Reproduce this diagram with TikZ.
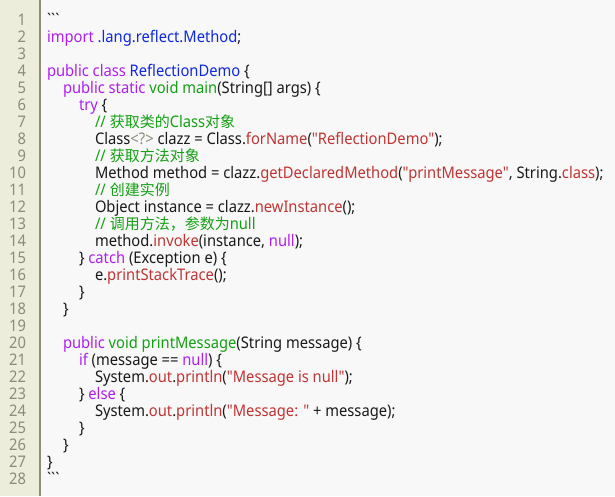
\documentclass[tikz,border=0pt]{standalone}
\usepackage{fontspec}
\newfontfamily\codefont{Noto Sans}[FakeStretch=0.92]
\newfontfamily\cjk{Noto Sans CJK SC}
\definecolor{bgc}{HTML}{F8F8F8}
\definecolor{gutterc}{HTML}{EDEDDC}
\definecolor{gutterline}{HTML}{8E8E70}
\definecolor{numc}{HTML}{8C8C78}
\definecolor{kwc}{HTML}{B01EF0}
\definecolor{clc}{HTML}{1028E0}
\definecolor{grc}{HTML}{14A014}
\definecolor{fnc}{HTML}{C03434}
\definecolor{txc}{HTML}{1A1A1A}
\newcommand{\kw}[1]{\textcolor{kwc}{#1}}
\newcommand{\cl}[1]{\textcolor{clc}{#1}}
\newcommand{\gr}[1]{\textcolor{grc}{#1}}
\newcommand{\fn}[1]{\textcolor{fnc}{#1}}
\newcommand{\gy}[1]{\textcolor{numc}{#1}}
\newcommand{\zh}[1]{{\cjk\fontsize{15}{17}\selectfont #1}}
\newcommand{\bt}{\symbol{96}\symbol{96}\symbol{96}}
\tikzset{
  codeline/.style={anchor=base west, inner sep=0pt, outer sep=0pt, text=txc, font=\codefont\fontsize{16}{17}\selectfont},
  numline/.style={anchor=base east, inner sep=0pt, outer sep=0pt, text=numc, font=\codefont\fontsize{16}{17}\selectfont},
}
\newcommand{\codeln}[3]{\node[codeline] (l#1) at ({47+16*#2}, {-25-(#1-1)*17}) {#3};}
\begin{document}
\begin{tikzpicture}[x=1pt,y=1pt]
\useasboundingbox (0,0) rectangle (615,-496);
\fill[bgc] (0,0) rectangle (615,-496);
\fill[gutterc] (0,0) rectangle (40,-496);
\draw[gutterline, line width=1.5pt] (40,0) -- (40,-496);
\foreach \i in {1,...,28} {
  \node[numline] (n\i) at (26, {-25-(\i-1)*17}) {\i};
}
\codeln{1}{0}{\bt}
\codeln{2}{0}{\kw{import} \cl{.lang.reflect.Method};}
\codeln{4}{0}{\kw{public class} \cl{ReflectionDemo} \{}
\codeln{5}{1}{\kw{public static} \gr{void main}(String[] args) \{}
\codeln{6}{2}{\kw{try} \{}
\codeln{7}{3}{\gr{// \zh{获取类的}Class\zh{对象}}}
\codeln{8}{3}{Class\gy{<?>} clazz = Class.\fn{forName}(\fn{"ReflectionDemo"});}
\codeln{9}{3}{\gr{// \zh{获取方法对象}}}
\codeln{10}{3}{Method method = clazz.\fn{getDeclaredMethod}(\fn{"printMessage"}, String.\fn{class});}
\codeln{11}{3}{\gr{// \zh{创建实例}}}
\codeln{12}{3}{Object instance = clazz.\fn{newInstance}();}
\codeln{13}{3}{\gr{// \zh{调用方法，参数为}null}}
\codeln{14}{3}{method.\fn{invoke}(instance, \kw{null});}
\codeln{15}{2}{\} \kw{catch} (Exception e) \{}
\codeln{16}{3}{e.\fn{printStackTrace}();}
\codeln{17}{2}{\}}
\codeln{18}{1}{\}}
\codeln{20}{1}{\kw{public} \gr{void printMessage}(String message) \{}
\codeln{21}{2}{\kw{if} (message == \kw{null}) \{}
\codeln{22}{3}{System.\fn{out}.\fn{println}(\fn{"Message is null"});}
\codeln{23}{2}{\} \kw{else} \{}
\codeln{24}{3}{System.\fn{out}.\fn{println}(\fn{"Message: "} + message);}
\codeln{25}{2}{\}}
\codeln{26}{1}{\}}
\codeln{27}{0}{\}}
\codeln{28}{0}{\bt}
\end{tikzpicture}
\end{document}
